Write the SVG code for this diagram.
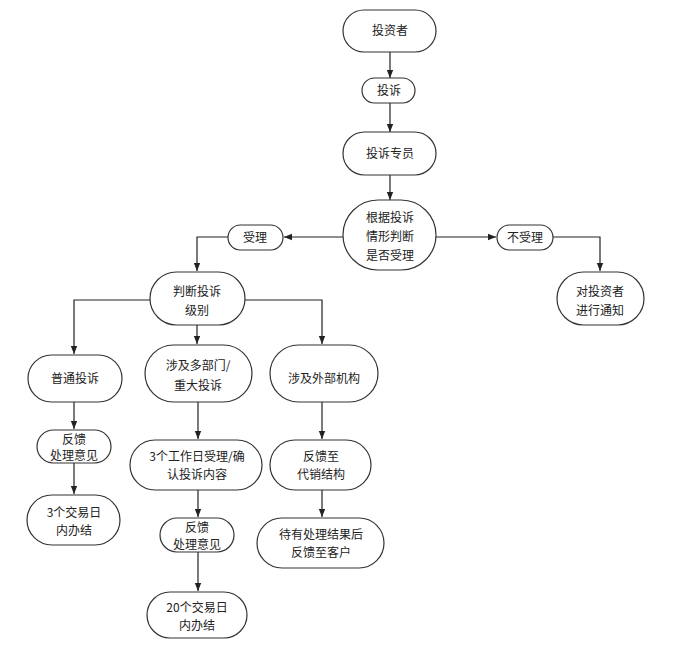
<svg xmlns="http://www.w3.org/2000/svg" width="700" height="662" viewBox="0 0 700 662">
<defs>
<marker id="a" viewBox="0 0 10 10" refX="10" refY="5" markerWidth="7" markerHeight="7" orient="auto"><path d="M0,1 L10,5 L0,9 z" fill="#222"/></marker>
<style>
.n rect{fill:#fff;stroke:#333;stroke-width:1.2}
text{font-family:"Noto Sans CJK SC",sans-serif;font-size:12px;fill:#222;text-anchor:middle}
.c path{fill:none;stroke:#222;stroke-width:1.2;marker-end:url(#a)}
</style>
</defs>
<rect width="700" height="662" fill="#fff"/>
<g class="c">
<path d="M390,52 V78"/>
<path d="M390,103 V132"/>
<path d="M390,175 V200"/>
<path d="M343,237 H284"/>
<path d="M436,237 H496"/>
<path d="M553,237 H600 V271"/>
<path d="M228,237 H197 V271"/>
<path d="M150,300 H74 V354"/>
<path d="M197,325 V344"/>
<path d="M245,300 H322 V344"/>
<path d="M74,402 V429"/>
<path d="M74,463 V494"/>
<path d="M198,402 V439"/>
<path d="M198,490 V517"/>
<path d="M198,552 V591"/>
<path d="M322,402 V439"/>
<path d="M322,490 V517"/>
</g>
<g class="n" id="n1"><rect x="343" y="10" width="93" height="42" rx="21"/><text x="390" y="35">投资者</text></g>
<g class="n" id="n2"><rect x="362" y="78" width="53" height="25" rx="12.5"/><text x="389" y="95">投诉</text></g>
<g class="n" id="n3"><rect x="343" y="132" width="93" height="43" rx="21.5"/><text x="390" y="158">投诉专员</text></g>
<g class="n" id="n4"><rect x="343" y="200" width="93" height="70" rx="35"/><text x="390" y="222">根据投诉</text><text x="390" y="241">情形判断</text><text x="390" y="260">是否受理</text></g>
<g class="n" id="n5"><rect x="228" y="225" width="55" height="25" rx="12.5"/><text x="255" y="242">受理</text></g>
<g class="n" id="n6"><rect x="497" y="225" width="56" height="25" rx="12.5"/><text x="525" y="242">不受理</text></g>
<g class="n" id="n7"><rect x="557" y="272" width="87" height="53" rx="26.5"/><text x="600" y="296">对投资者</text><text x="600" y="315">进行通知</text></g>
<g class="n" id="n8"><rect x="150" y="272" width="95" height="53" rx="26.5"/><text x="197" y="296">判断投诉</text><text x="197" y="315">级别</text></g>
<g class="n" id="n9"><rect x="28" y="355" width="94" height="47" rx="23.5"/><text x="75" y="383">普通投诉</text></g>
<g class="n" id="n10"><rect x="145" y="345" width="107" height="57" rx="28.5"/><text x="198" y="370">涉及多部门/</text><text x="198" y="390">重大投诉</text></g>
<g class="n" id="n11"><rect x="270" y="345" width="108" height="57" rx="28.5"/><text x="324" y="383">涉及外部机构</text></g>
<g class="n" id="n12"><rect x="37" y="430" width="74" height="33" rx="16.5"/><text x="74" y="444">反馈</text><text x="74" y="460">处理意见</text></g>
<g class="n" id="n13"><rect x="27" y="495" width="93" height="50" rx="25"/><text x="74" y="517">3个交易日</text><text x="74" y="535">内办结</text></g>
<g class="n" id="n14"><rect x="130" y="440" width="132" height="50" rx="25"/><text x="197" y="461">3个工作日受理/确</text><text x="197" y="479">认投诉内容</text></g>
<g class="n" id="n15"><rect x="270" y="440" width="101" height="50" rx="25"/><text x="321" y="461">反馈至</text><text x="321" y="479">代销结构</text></g>
<g class="n" id="n16"><rect x="160" y="518" width="74" height="34" rx="17"/><text x="197" y="532">反馈</text><text x="197" y="549">处理意见</text></g>
<g class="n" id="n17"><rect x="257" y="518" width="127" height="50" rx="25"/><text x="321" y="539">待有处理结果后</text><text x="321" y="557">反馈至客户</text></g>
<g class="n" id="n18"><rect x="147" y="592" width="100" height="46" rx="23"/><text x="197" y="612">20个交易日</text><text x="197" y="630">内办结</text></g>
</svg>
